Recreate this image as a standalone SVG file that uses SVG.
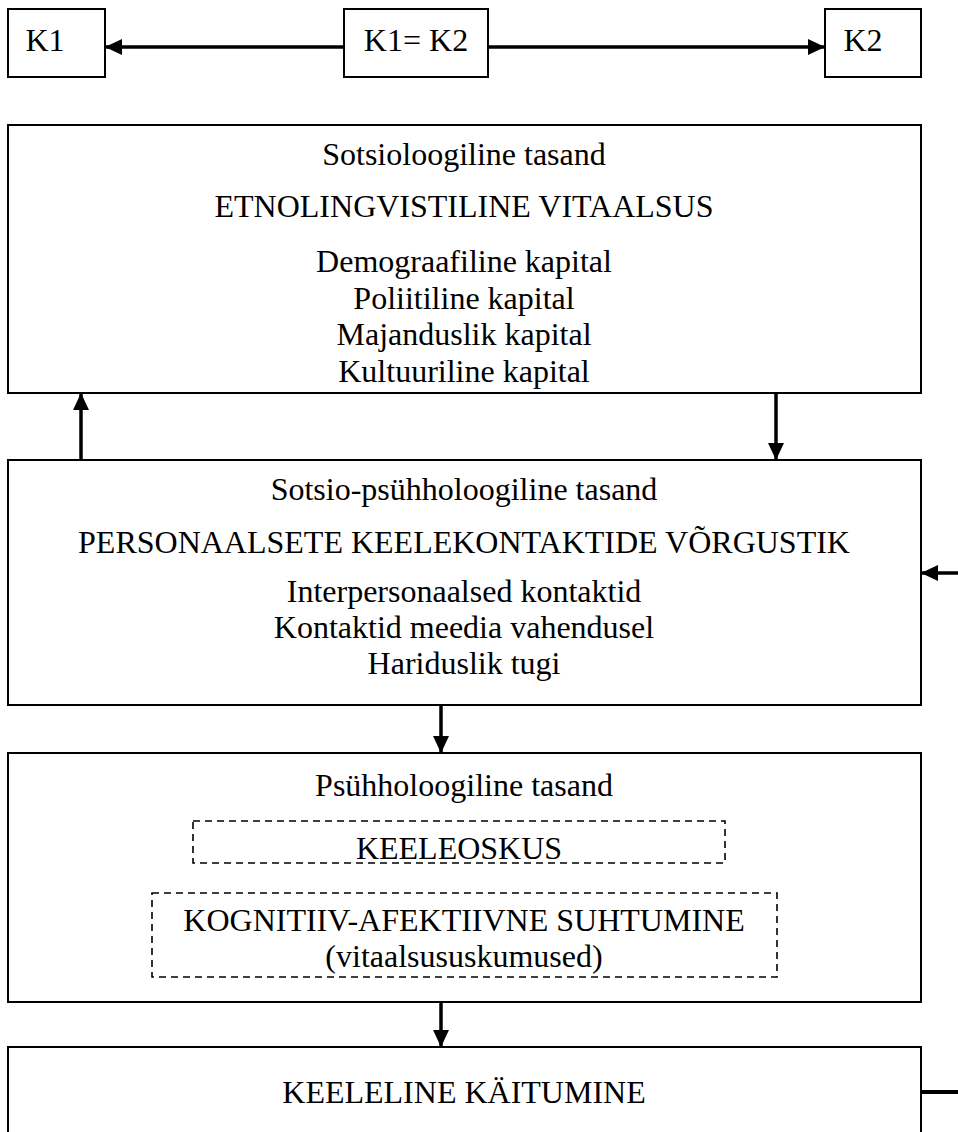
<svg xmlns="http://www.w3.org/2000/svg" width="958" height="1132" viewBox="0 0 958 1132">
<style>
.box{fill:#fff;stroke:#000;stroke-width:2}
.dash{fill:none;stroke:#000;stroke-width:1.6;stroke-dasharray:7 5}
.t{font-family:"Liberation Serif","Times New Roman",serif;font-size:32px;fill:#000;text-anchor:middle}
.c{stroke:#000;stroke-width:3.5;fill:none}
</style>
<defs>
<marker id="ah" markerUnits="userSpaceOnUse" markerWidth="18" markerHeight="16" refX="17" refY="8" orient="auto">
<path d="M0,0 L17,8 L0,16 z" fill="#000"/>
</marker>
</defs>
<g id="n-k1"><rect class="box" x="8" y="9" width="97" height="68"/><text class="t" x="45" y="51">K1</text></g>
<g id="n-k1k2"><rect class="box" x="344" y="9" width="144" height="68"/><text class="t" x="416" y="51">K1= K2</text></g>
<g id="n-k2"><rect class="box" x="825" y="9" width="96" height="68"/><text class="t" x="863" y="51">K2</text></g>
<g id="n-sotsio"><rect class="box" x="8" y="125" width="913" height="268"/>
<text class="t" x="464" y="165">Sotsioloogiline tasand</text>
<text class="t" x="464" y="217">ETNOLINGVISTILINE VITAALSUS</text>
<text class="t" x="464" y="272">Demograafiline kapital</text>
<text class="t" x="464" y="309">Poliitiline kapital</text>
<text class="t" x="464" y="345">Majanduslik kapital</text>
<text class="t" x="464" y="382">Kultuuriline kapital</text></g>
<g id="n-psyh"><rect class="box" x="8" y="460" width="913" height="245"/>
<text class="t" x="464" y="500">Sotsio-psühholoogiline tasand</text>
<text class="t" x="464" y="553">PERSONAALSETE KEELEKONTAKTIDE VÕRGUSTIK</text>
<text class="t" x="464" y="602">Interpersonaalsed kontaktid</text>
<text class="t" x="464" y="638">Kontaktid meedia vahendusel</text>
<text class="t" x="464" y="674">Hariduslik tugi</text></g>
<g id="n-psy"><rect class="box" x="8" y="753" width="913" height="249"/>
<text class="t" x="464" y="796">Psühholoogiline tasand</text>
<g id="n-keeleoskus"><rect class="dash" x="193" y="821" width="532" height="42"/><text class="t" x="459" y="859">KEELEOSKUS</text></g>
<g id="n-kognitiiv"><rect class="dash" x="152" y="893" width="625" height="84"/>
<text class="t" x="464" y="931">KOGNITIIV-AFEKTIIVNE SUHTUMINE</text>
<text class="t" x="464" y="967">(vitaalsususkumused)</text></g></g>
<g id="n-kaitumine"><rect class="box" x="8" y="1047" width="913" height="100"/>
<text class="t" x="464" y="1103">KEELELINE KÄITUMINE</text></g>
<g id="connectors">
<line class="c" x1="344" y1="47" x2="105" y2="47" marker-end="url(#ah)"/>
<line class="c" x1="488" y1="47" x2="825" y2="47" marker-end="url(#ah)"/>
<line class="c" x1="81" y1="460" x2="81" y2="393" marker-end="url(#ah)"/>
<line class="c" x1="776" y1="393" x2="776" y2="460" marker-end="url(#ah)"/>
<line class="c" x1="958" y1="573" x2="921" y2="573" marker-end="url(#ah)"/>
<line class="c" x1="441" y1="705" x2="441" y2="753" marker-end="url(#ah)"/>
<line class="c" x1="441" y1="1002" x2="441" y2="1047" marker-end="url(#ah)"/>
<line class="c" x1="921" y1="1092" x2="958" y2="1092" style="stroke-width:4"/>
</g>
</svg>
